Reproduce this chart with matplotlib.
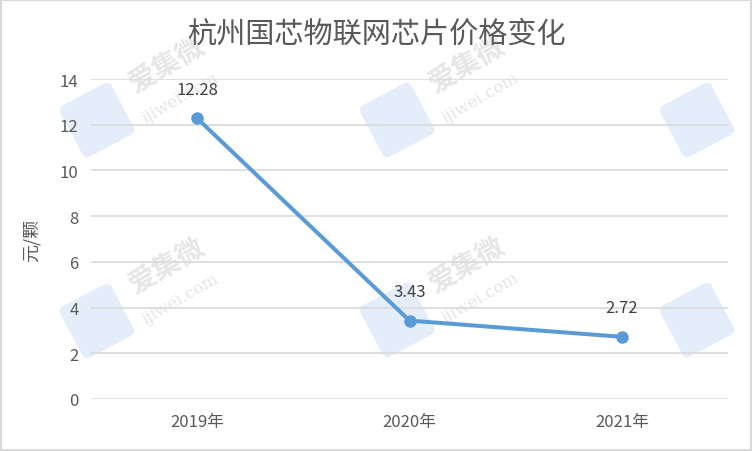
import matplotlib
matplotlib.use("Agg")
import matplotlib.pyplot as plt
from matplotlib.patches import FancyBboxPatch, Rectangle
from matplotlib.transforms import Affine2D

plt.rcParams['font.family'] = ['Noto Sans CJK SC', 'DejaVu Sans']

title = "杭州国芯物联网芯片价格变化"
categories = ["2019年", "2020年", "2021年"]
prices = [12.28, 3.43, 2.72]
value_labels = ["12.28", "3.43", "2.72"]
y_ticks = [0, 2, 4, 6, 8, 10, 12, 14]
y_label = "元/颗"

W, H = 752, 452
fig = plt.figure(figsize=(W / 100, H / 100), dpi=100)
fig.patch.set_facecolor("white")
fig.patches.append(Rectangle((1, 1), W - 2, H - 2, transform=None, fill=False,
                             edgecolor="#D9D9D9", linewidth=1.5))

ax = fig.add_axes([91 / W, 1 - 400 / H, (728 - 91) / W, 320 / H])
ax.patch.set_alpha(0)
x = list(range(len(categories)))
ax.plot(x, prices, color="#5B9BD5", linewidth=2.9, marker="o", markersize=8,
        solid_capstyle="round", zorder=3)
for xi, v, lab in zip(x, prices, value_labels):
    ax.annotate(lab, (xi, v), xytext=(0, 21), textcoords="offset points",
                ha="center", va="center", fontsize=12, color="#404040", zorder=4)

ax.set_xlim(-0.5, len(categories) - 0.5)
ax.set_ylim(0, 14)
ax.set_yticks(y_ticks)
ax.set_yticklabels([str(t) for t in y_ticks])
ax.set_xticks(x)
ax.set_xticklabels(categories)
ax.tick_params(axis="both", length=0, labelsize=12, labelcolor="#595959")
ax.tick_params(axis="y", pad=9)
ax.tick_params(axis="x", pad=10)
ax.grid(axis="y", color="#D9D9D9", linewidth=1.2)
ax.set_axisbelow(True)
for s in ax.spines.values():
    s.set_visible(False)
ax.set_ylabel(y_label, fontsize=13, color="#595959", labelpad=14)

fig.text(0.5, 1 - 35 / H, title, ha="center", va="center", fontsize=21,
         color="#595959", fontweight="light")

# watermarks (drawn low in the axes so ticks, grid and line sit above them)
ft = fig.transFigure
for cx, cy in [(97, 121), (397, 121), (697, 121), (97, 322), (397, 321), (697, 321)]:
    tr = Affine2D().rotate_deg_around(cx, H - cy, 28)
    rect = FancyBboxPatch((cx - 26, H - cy - 26), 52, 52,
                          boxstyle="round,pad=3,rounding_size=6", transform=tr,
                          facecolor="#E4EEFB", edgecolor="none", zorder=0.2,
                          clip_on=False)
    ax.add_artist(rect)
    if cx < 600:
        ax.text((cx + 70) / W, 1 - (cy - 55) / H, "爱集微", rotation=30, ha="center",
                va="center", fontsize=20, color="#E6E6E6", fontweight="bold",
                transform=ft, zorder=0.2, clip_on=False)
        ax.text((cx + 83) / W, 1 - (cy - 23) / H, "ijiwei.com", rotation=30,
                ha="center", va="center", fontsize=12, color="#E6E6E6",
                family="DejaVu Serif", transform=ft, zorder=0.2, clip_on=False)

fig.savefig("out.png", dpi=100)
